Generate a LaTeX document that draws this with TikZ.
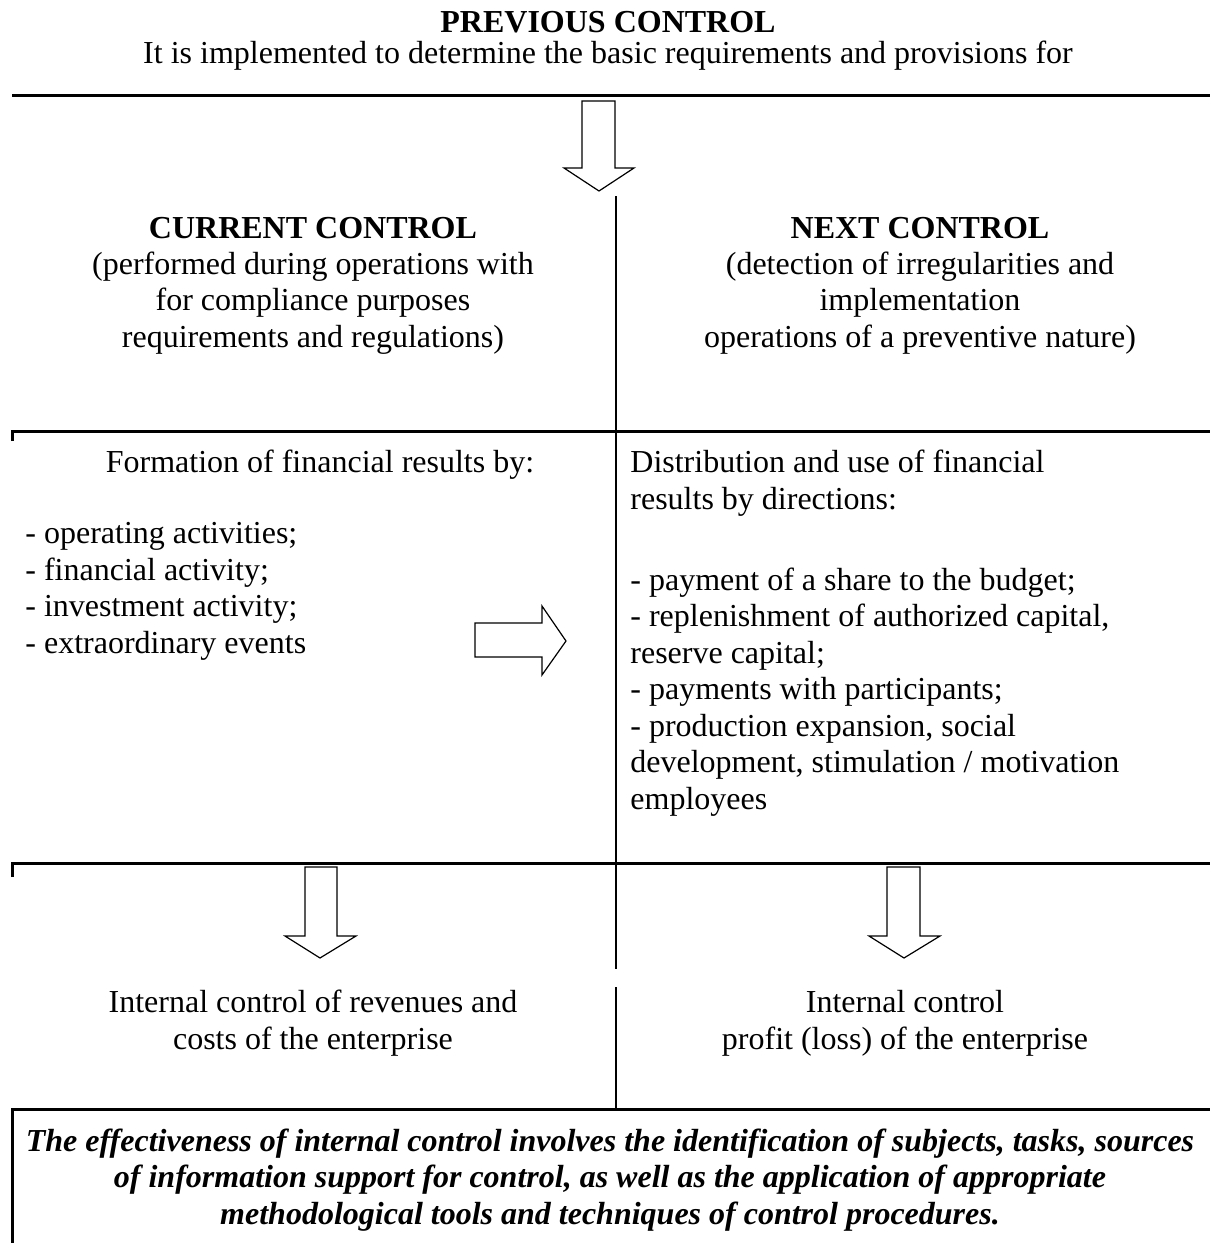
\documentclass[tikz,border=0pt]{standalone}
\usepackage{fontspec}
\setmainfont{Liberation Serif}

\begin{document}
\begin{tikzpicture}[x=0.5pt, y=-0.5pt,
        txt/.style={inner sep=0pt, font=\fontsize{16}{18.25}\selectfont},
        headtxt/.style={txt, font=\fontsize{16}{18.25}\selectfont\bfseries},
        efftxt/.style={txt, font=\fontsize{16}{18.25}\selectfont\bfseries\itshape},
        rule/.style={line width=1.5pt},
        divider/.style={line width=1.2pt},
        blockarrow/.style={line width=0.6pt, fill=white, line join=miter}]
    \useasboundingbox (0,0) rectangle (1210,1243);

    \node[headtxt, anchor=base] (prev) at (608,32) {PREVIOUS CONTROL};
    \node[txt, anchor=base] (prevtxt) at (608,63) {It is implemented to determine the basic requirements and provisions for};
    \draw[rule] (12,95) -- (1210,95);

    % arrow down to the two columns
    \draw[blockarrow] (582,101) -- (615,101) -- (615,168) -- (634,168) -- (599,191) -- (564,168) -- (582,168) -- cycle;

    \draw[divider] (616,196) -- (616,969);
    \draw[divider] (616,987) -- (616,1109);

    % multi-line nodes sit on the baseline of their last line
    \node[headtxt, anchor=base] (cur) at (313,238) {CURRENT CONTROL};
    \node[txt, align=center, anchor=base] (curtxt) at (313,347) {(performed during operations with\\for compliance purposes\\requirements and regulations)};
    \node[headtxt, anchor=base] (next) at (920,238) {NEXT CONTROL};
    \node[txt, align=center, anchor=base] (nexttxt) at (920,347) {(detection of irregularities and\\implementation\\ operations of a preventive nature)};

    \draw[rule] (12,441) -- (12,431) -- (1210,431);

    \node[txt, anchor=base] (form) at (320,472) {Formation of financial results by:};
    \node[txt, align=left, anchor=base west] (formlist) at (25,653) {- operating activities;\\- financial activity;\\- investment activity;\\- extraordinary events};
    \node[txt, align=left, anchor=base west] (distr) at (630,509) {Distribution and use of financial\\results by directions:};
    \node[txt, align=left, anchor=base west] (distrlist) at (630,809) {- payment of a share to the budget;\\- replenishment of authorized capital,\\reserve capital;\\- payments with participants;\\- production expansion, social\\development, stimulation / motivation\\employees};

    % arrow from formation to distribution
    \draw[blockarrow] (475,623) -- (542,623) -- (542,606) -- (566,641) -- (542,675) -- (542,657) -- (475,657) -- cycle;

    \draw[rule] (12,877) -- (12,863) -- (1210,863);

    % arrows down to internal control
    \draw[blockarrow] (305,867) -- (337,867) -- (337,936) -- (356,936) -- (320,958) -- (285,936) -- (305,936) -- cycle;
    \draw[blockarrow] (887,867) -- (920,867) -- (920,936) -- (940,936) -- (904,958) -- (869,936) -- (887,936) -- cycle;

    \node[txt, align=center, anchor=base] (revcost) at (313,1049) {Internal control of revenues and\\costs of the enterprise};
    \node[txt, align=center, anchor=base] (profit) at (905,1049) {Internal control\\profit (loss) of the enterprise};

    \draw[rule] (12,1243) -- (12,1109) -- (1210,1109);
    \node[efftxt, align=center, anchor=base] (eff) at (610,1224) {The effectiveness of internal control involves the identification of subjects, tasks, sources\\of information support for control, as well as the application of appropriate\\methodological tools and techniques of control procedures.};
\end{tikzpicture}
\end{document}
